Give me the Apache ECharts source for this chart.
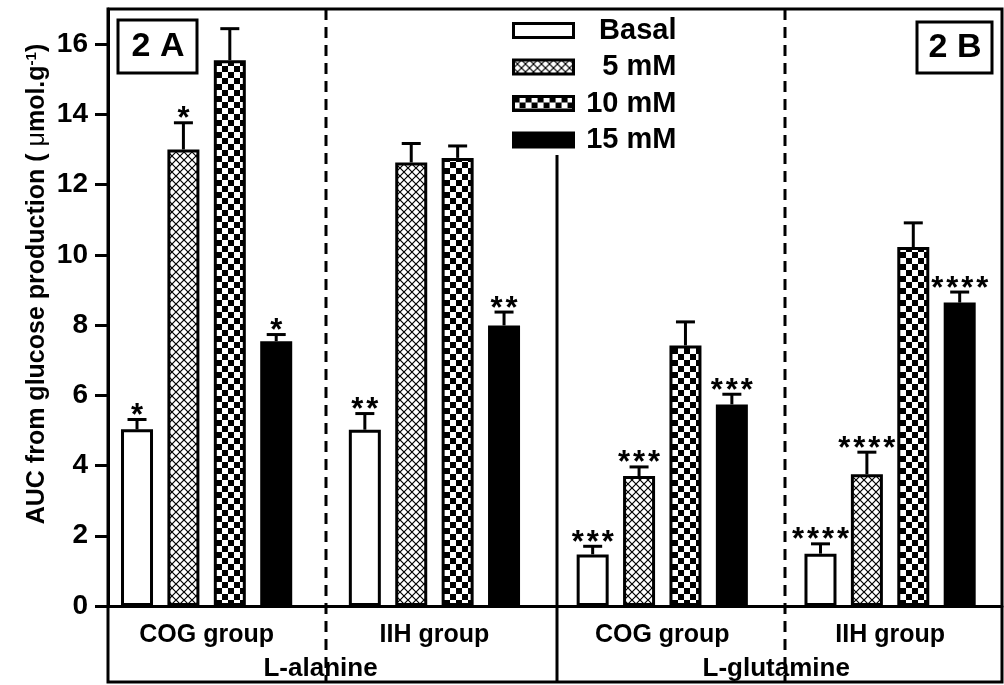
<!DOCTYPE html>
<html>
<head>
<meta charset="utf-8">
<script src="https://cdn.jsdelivr.net/npm/echarts@6/dist/echarts.min.js"></script>
<style>html,body{margin:0;padding:0;background:#fff;}#c{width:1004px;height:685px;}</style>
</head>
<body>
<div id="c"></div>
<script>
// ---- data ----
const categories = ['COG group', 'IIH group', 'COG group', 'IIH group'];
const aminoAcids = ['L-alanine', 'L-glutamine'];
const doses = ['Basal', '5 mM', '10 mM', '15 mM'];
const basal = [5.03, 5.02, 1.47, 1.49];
const basalErr = [0.28, 0.46, 0.23, 0.28];
const mM5 = [13.0, 12.63, 3.70, 3.75];
const mM5Err = [0.76, 0.54, 0.26, 0.63];
const mM10 = [15.54, 12.76, 7.42, 10.22];
const mM10Err = [0.90, 0.34, 0.67, 0.69];
const mM15 = [7.54, 7.99, 5.74, 8.64];
const mM15Err = [0.19, 0.38, 0.29, 0.30];
const sigBasal = ['*', '**', '***', '****'];
const sig5 = ['*', '', '***', '****'];
const sig10 = ['', '', '', ''];
const sig15 = ['*', '**', '***', '****'];
const yTicks = [0, 2, 4, 6, 8, 10, 12, 14, 16];

const means = [basal, mM5, mM10, mM15];
const errs = [basalErr, mM5Err, mM10Err, mM15Err];
const sigs = [sigBasal, sig5, sig10, sig15];

const FONT = '"Liberation Sans", Arial, Helvetica, sans-serif';
const BAR_W = 32, BAR_GAP = 0.45, PITCH = BAR_W * (1 + BAR_GAP);

function crossPattern() {
  const c = document.createElement('canvas');
  c.width = 8; c.height = 8;
  const g = c.getContext('2d');
  g.fillStyle = '#fff'; g.fillRect(0, 0, 8, 8);
  g.strokeStyle = '#000'; g.lineWidth = 1.2;
  g.beginPath(); g.moveTo(-1, -1); g.lineTo(9, 9); g.moveTo(9, -1); g.lineTo(-1, 9); g.stroke();
  return c;
}
function checkPattern() {
  const c = document.createElement('canvas');
  c.width = 12; c.height = 12;
  const g = c.getContext('2d');
  g.fillStyle = '#fff'; g.fillRect(0, 0, 12, 12);
  g.fillStyle = '#000'; g.fillRect(0, 0, 6, 6); g.fillRect(6, 6, 6, 6);
  return c;
}
const fills = ['#ffffff', {image: crossPattern(), repeat: 'repeat'}, {image: checkPattern(), repeat: 'repeat'}, '#000000'];

const chart = echarts.init(document.getElementById('c'), null, {renderer: 'canvas'});

const series = [];
doses.forEach((d, s) => {
  series.push({
    name: d, type: 'bar', xAxisIndex: 0, yAxisIndex: 0,
    barWidth: BAR_W, barGap: (BAR_GAP * 100) + '%',
    data: means[s],
    itemStyle: {color: fills[s], borderColor: '#000', borderWidth: 3},
    z: 2, silent: true
  });
});
doses.forEach((d, s) => {
  series.push({
    name: 'err' + s, type: 'custom', xAxisIndex: 0, yAxisIndex: 0, z: 4, silent: true,
    data: means[s].map((m, i) => [i, m, errs[s][i]]),
    encode: {x: 0, y: 1},
    renderItem: function (params, api) {
      const i = params.dataIndex;
      const base = api.coord([api.value(0), api.value(1)]);
      const top = api.coord([api.value(0), api.value(1) + api.value(2)]);
      const x = base[0] + (s - 1.5) * PITCH;
      const children = [
        {type: 'line', shape: {x1: x, y1: base[1], x2: x, y2: top[1]}, style: {stroke: '#000', lineWidth: 3}},
        {type: 'line', shape: {x1: x - 9.5, y1: top[1], x2: x + 9.5, y2: top[1]}, style: {stroke: '#000', lineWidth: 3}}
      ];
      const sig = sigs[s][i];
      const n = sig.length;
      for (let k = 0; k < n; k++) {
        children.push({
          type: 'text',
          style: {text: '*', x: x + (k - (n - 1) / 2) * 15, y: top[1] - 3, align: 'center', verticalAlign: 'middle',
            font: 'bold 31px ' + FONT, fill: '#000'}
        });
      }
      return {type: 'group', children: children};
    }
  });
});
// dummy series for frame grid
series.push({type: 'line', xAxisIndex: 2, yAxisIndex: 1, data: [], silent: true});

const option = {
  animation: false,
  backgroundColor: '#fff',
  grid: [
    {left: 92.7, width: 922.7, top: 9, bottom: 79, containLabel: false},
    {left: 108, right: 2, top: 9, bottom: 79, containLabel: false}
  ],
  legend: {
    data: doses, orient: 'vertical', left: 507, top: 11, itemWidth: 60, itemHeight: 14,
    itemGap: 7.5, selectedMode: false, icon: 'rect',
    itemStyle: {borderWidth: 3, borderColor: '#000'},
    formatter: name => '{t|' + name + '}',
    textStyle: {rich: {t: {width: 98, align: 'right', fontSize: 29, fontWeight: 'bold', fontFamily: FONT, color: '#000', lineHeight: 29}}}
  },
  xAxis: [
    {type: 'category', gridIndex: 0, data: categories, position: 'bottom',
      axisLine: {show: false}, axisTick: {show: false}, splitLine: {show: false},
      axisLabel: {margin: 17, fontSize: 25, fontWeight: 'bold', fontFamily: FONT, color: '#000', interval: 0}},
    {type: 'category', gridIndex: 0, data: aminoAcids, position: 'bottom',
      axisLine: {show: false}, axisTick: {show: false}, splitLine: {show: false},
      axisLabel: {margin: 50, fontSize: 26, fontWeight: 'bold', fontFamily: FONT, color: '#000', interval: 0}},
    {type: 'value', gridIndex: 1, min: 0, max: 1, position: 'bottom',
      axisLine: {show: true, lineStyle: {color: '#000', width: 3}}, axisTick: {show: false},
      axisLabel: {show: false}, splitLine: {show: false}}
  ],
  yAxis: [
    {type: 'value', gridIndex: 0, min: 0, max: 17, show: false},
    {type: 'value', gridIndex: 1, min: 0, max: 17, interval: 2,
      axisLine: {show: true, lineStyle: {color: '#000', width: 3}},
      axisTick: {show: true, length: 13, customValues: yTicks, lineStyle: {color: '#000', width: 3}},
      axisLabel: {customValues: yTicks, margin: 20, fontSize: 28, fontWeight: 'bold', fontFamily: FONT, color: '#000'},
      splitLine: {show: false}}
  ],
  graphic: [
    {type: 'rect', shape: {x: 108, y: 9, width: 894, height: 673}, style: {fill: 'none', stroke: '#000', lineWidth: 3}, z: 1, silent: true},
    {type: 'line', shape: {x1: 326, y1: 9, x2: 326, y2: 682}, style: {stroke: '#000', lineWidth: 3, lineDash: [11, 7]}, z: 1, silent: true},
    {type: 'line', shape: {x1: 785, y1: 9, x2: 785, y2: 682}, style: {stroke: '#000', lineWidth: 3, lineDash: [11, 7]}, z: 1, silent: true},
    {type: 'line', shape: {x1: 557, y1: 155, x2: 557, y2: 682}, style: {stroke: '#000', lineWidth: 3}, z: 1, silent: true},
    {type: 'rect', shape: {x: 118, y: 20, width: 79, height: 53}, style: {fill: '#fff', stroke: '#000', lineWidth: 3}, z: 5, silent: true},
    {type: 'text', x: 158, y: 47, style: {text: '2 A', align: 'center', verticalAlign: 'middle', font: 'bold 34px ' + FONT, fill: '#000'}, z: 6, silent: true},
    {type: 'rect', shape: {x: 917, y: 22, width: 75, height: 51}, style: {fill: '#fff', stroke: '#000', lineWidth: 3}, z: 5, silent: true},
    {type: 'text', x: 955, y: 48, style: {text: '2 B', align: 'center', verticalAlign: 'middle', font: 'bold 34px ' + FONT, fill: '#000'}, z: 6, silent: true},
    {type: 'text', x: 37, y: 284, rotation: Math.PI / 2, silent: true,
      style: {text: '{a|AUC from glucose production ( }{m|\u03bc}{a|mol.g}{s|-1}{a|)}', align: 'center', verticalAlign: 'middle',
        rich: {
          a: {font: 'bold 25px ' + FONT, fill: '#000'},
          m: {font: '25px ' + FONT, fill: '#000'},
          s: {font: 'bold 15px ' + FONT, fill: '#000', verticalAlign: 'top', padding: [0, 0, 10, 0]}
        }}}
  ],
  series: series
};
chart.setOption(option);
</script>
</body>
</html>
